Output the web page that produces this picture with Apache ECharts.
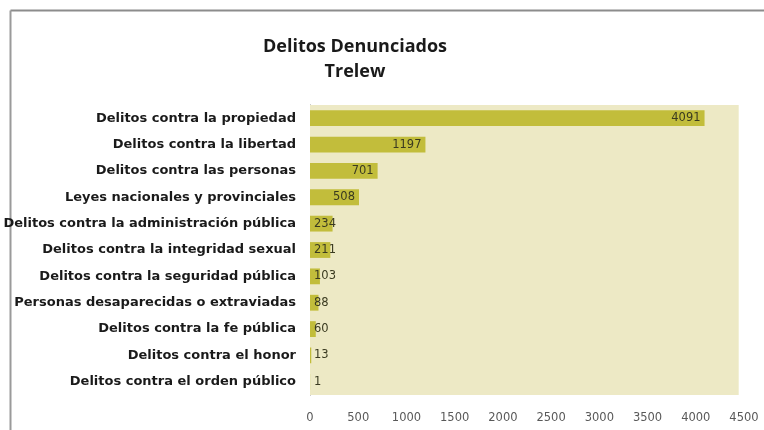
<!DOCTYPE html>
<html>
<head>
<meta charset="utf-8">
<script src="https://cdn.jsdelivr.net/npm/echarts@6/dist/echarts.min.js"></script>
<style>html,body{margin:0;padding:0;background:#fff}#c{width:764px;height:430px}</style>
</head>
<body>
<div id="c"></div>
<script>
var categories = [
  "Delitos contra la propiedad",
  "Delitos contra la libertad",
  "Delitos contra las personas",
  "Leyes nacionales y provinciales",
  "Delitos contra la administración pública",
  "Delitos contra la integridad sexual",
  "Delitos contra la seguridad pública",
  "Personas desaparecidas o extraviadas",
  "Delitos contra la fe pública",
  "Delitos contra el honor",
  "Delitos contra el orden público"
];
var values = [4091, 1197, 701, 508, 234, 211, 103, 88, 60, 13, 1];
var titleLines = ["Delitos Denunciados", "Trelew"];

var FONT = "Open Sans";
var data = values.map(function (v) {
  return {
    value: v,
    label: { position: v >= 400 ? 'insideRight' : 'insideLeft', distance: 4 }
  };
});

var chart = echarts.init(document.getElementById('c'), null, { renderer: 'canvas' });
chart.setOption({
  animation: false,
  backgroundColor: '#ffffff',
  title: {
    text: titleLines.join('\n'),
    left: 350,
    top: 29,
    textAlign: 'center',
    textStyle: { fontFamily: FONT, fontWeight: 'bold', fontSize: 18, color: '#1a1a1a', lineHeight: 25 }
  },
  graphic: [
    { type: 'line', shape: { x1: 10.5, y1: 10.5, x2: 764, y2: 10.5 }, style: { stroke: '#8c8c8c', lineWidth: 2 } },
    { type: 'line', shape: { x1: 10.5, y1: 10.5, x2: 10.5, y2: 430 }, style: { stroke: '#9a9a9a', lineWidth: 2 } }
  ],
  grid: { left: 310, right: 20, top: 105, bottom: 35, show: false },
  xAxis: {
    type: 'value',
    min: 0, max: 4500, interval: 500,
    axisLine: { show: false },
    axisTick: { show: false },
    splitLine: { show: false },
    axisLabel: { fontFamily: 'DejaVu Sans', fontSize: 11.5, color: '#595959', margin: 17, formatter: function (v) { return String(v); } }
  },
  yAxis: {
    type: 'category',
    inverse: true,
    data: categories,
    axisLine: { show: true, lineStyle: { color: '#7f7f7f', width: 1 } },
    axisTick: { show: false },
    axisLabel: { fontFamily: 'DejaVu Sans', fontWeight: 'bold', fontSize: 13, color: '#1a1a1a', margin: 14 }
  },
  series: [
    {
      type: 'bar',
      data: data,
      barCategoryGap: '40%',
      itemStyle: { color: '#c2bd3b' },
      label: { show: true, fontFamily: 'DejaVu Sans', fontSize: 11.5, color: '#3a3a20' },
      markArea: {
        silent: true,
        itemStyle: { color: '#ede9c5' },
        data: [[{ xAxis: 0, yAxis: categories[0] }, { xAxis: 4445, yAxis: categories[categories.length - 1] }]]
      },
      z: 2
    }
  ]
});
</script>
</body>
</html>
